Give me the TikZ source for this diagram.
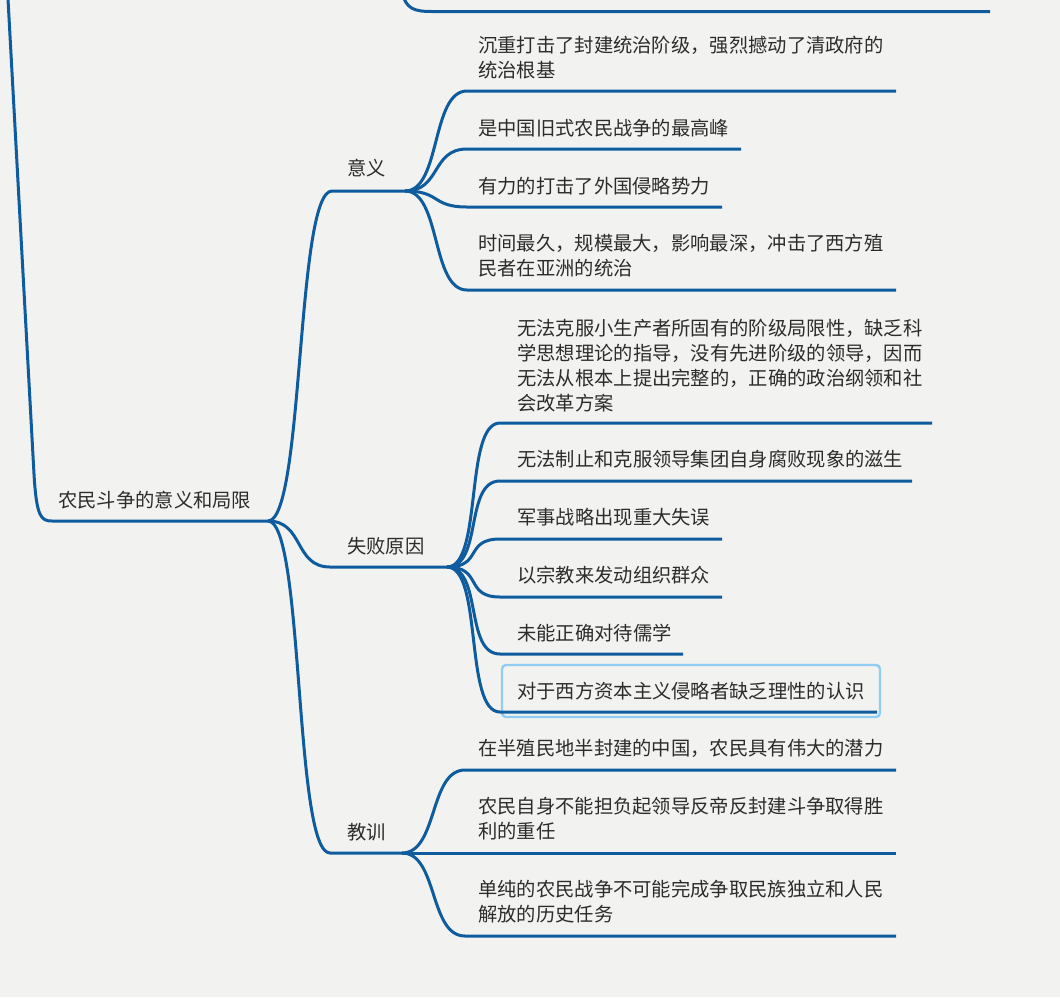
\documentclass[tikz,border=0pt]{standalone}
\usepackage{fontspec}
\setmainfont{Noto Sans CJK SC}
\usepackage{xcolor}
\usepackage{tikz}

\definecolor{paper}{HTML}{F2F2F0}
\definecolor{branchblue}{HTML}{0E5C9E}
\definecolor{inkgray}{HTML}{2C2C2C}
\definecolor{pickblue}{HTML}{8FCDF2}

\newcommand{\rows}[1]{\begin{tabular}[t]{@{}l@{}}#1\end{tabular}}

\begin{document}
\begin{tikzpicture}[x=1pt,y=-1pt,
  branch/.style={draw=branchblue,line width=3pt},
  curvy/.style={out=0,in=180,out distance=36pt,in distance=36pt},
  topic/.style={anchor=base west,inner sep=0pt,text=inkgray,font=\fontsize{19.3}{25}\selectfont}]

\useasboundingbox (0,0) rectangle (1060,997);
\fill[paper] (0,0) rectangle (1060,997);
\clip (0,0) rectangle (1060,997);

\coordinate (upper) at (7.5,-10);
\coordinate (upperBend) at (34,474);
\coordinate (rootIn) at (52,521);
\coordinate (rootHub) at (268,521);
\coordinate (prevUp) at (402,-8);
\coordinate (prevIn) at (432,11.5);
\coordinate (prevEnd) at (990,11.5);

\coordinate (yiyiIn) at (332,191);
\coordinate (yiyiHub) at (405,191);
\coordinate (shibaiIn) at (330,567);
\coordinate (shibaiHub) at (447,567);
\coordinate (jiaoxunIn) at (330,853);
\coordinate (jiaoxunHub) at (402,853);

\coordinate (y1) at (467,91);   \coordinate (y1e) at (896,91);
\coordinate (y2) at (467,149);  \coordinate (y2e) at (741,149);
\coordinate (y3) at (467,207);  \coordinate (y3e) at (722,207);
\coordinate (y4) at (467,290);  \coordinate (y4e) at (896,290);

\coordinate (s1) at (500,423);  \coordinate (s1e) at (932,423);
\coordinate (s2) at (500,481);  \coordinate (s2e) at (912,481);
\coordinate (s3) at (500,539);  \coordinate (s3e) at (722,539);
\coordinate (s4) at (500,597);  \coordinate (s4e) at (722,597);
\coordinate (s5) at (500,654);  \coordinate (s5e) at (683,654);
\coordinate (s6) at (500,712);  \coordinate (s6e) at (877,712);

\coordinate (j1) at (465,770);  \coordinate (j1e) at (896,770);
\coordinate (j2e) at (896,853);
\coordinate (j3) at (465,936);  \coordinate (j3e) at (896,936);

\draw[pickblue, line width=2.4pt, rounded corners=4pt] (502,665) rectangle (880,717);

\draw[branch] (upper) -- (upperBend) .. controls (36.5,517) and (41,521) .. (rootIn) -- (rootHub);
\draw[branch] (prevUp) .. controls (406,9) and (414,11.5) .. (prevIn) -- (prevEnd);

\draw[branch] (rootHub) to[curvy] (yiyiIn) -- (yiyiHub);
\draw[branch] (rootHub) to[curvy] (shibaiIn) -- (shibaiHub);
\draw[branch] (rootHub) to[curvy] (jiaoxunIn) -- (jiaoxunHub);

\draw[branch] (yiyiHub) to[curvy] (y1) -- (y1e);
\draw[branch] (yiyiHub) to[curvy] (y2) -- (y2e);
\draw[branch] (yiyiHub) to[curvy] (y3) -- (y3e);
\draw[branch] (yiyiHub) to[curvy] (y4) -- (y4e);

\draw[branch] (shibaiHub) to[curvy] (s1) -- (s1e);
\draw[branch] (shibaiHub) to[curvy] (s2) -- (s2e);
\draw[branch] (shibaiHub) to[curvy] (s3) -- (s3e);
\draw[branch] (shibaiHub) to[curvy] (s4) -- (s4e);
\draw[branch] (shibaiHub) to[curvy] (s5) -- (s5e);
\draw[branch] (shibaiHub) to[curvy] (s6) -- (s6e);

\draw[branch] (jiaoxunHub) to[curvy] (j1) -- (j1e);
\draw[branch] (jiaoxunHub) -- (j2e);
\draw[branch] (jiaoxunHub) to[curvy] (j3) -- (j3e);

\node[topic] (root) at (58,507) {农民斗争的意义和局限};
\node[topic] (yiyi) at (347,175) {意义};
\node[topic] (shibai) at (347,553) {失败原因};
\node[topic] (jiaoxun) at (347,839) {教训};

\node[topic] (y1t) at (478,52) {\rows{沉重打击了封建统治阶级，强烈撼动了清政府的\\统治根基}};
\node[topic] (y2t) at (478,135) {是中国旧式农民战争的最高峰};
\node[topic] (y3t) at (478,193) {有力的打击了外国侵略势力};
\node[topic] (y4t) at (478,250) {\rows{时间最久，规模最大，影响最深，冲击了西方殖\\民者在亚洲的统治}};

\node[topic] (s1t) at (517,335) {\rows{无法克服小生产者所固有的阶级局限性，缺乏科\\学思想理论的指导，没有先进阶级的领导，因而\\无法从根本上提出完整的，正确的政治纲领和社\\会改革方案}};
\node[topic] (s2t) at (517,466) {无法制止和克服领导集团自身腐败现象的滋生};
\node[topic] (s3t) at (517,524) {军事战略出现重大失误};
\node[topic] (s4t) at (517,582) {以宗教来发动组织群众};
\node[topic] (s5t) at (517,640) {未能正确对待儒学};
\node[topic] (s6t) at (517,698) {对于西方资本主义侵略者缺乏理性的认识};

\node[topic] (j1t) at (478,755) {在半殖民地半封建的中国，农民具有伟大的潜力};
\node[topic] (j2t) at (478,813) {\rows{农民自身不能担负起领导反帝反封建斗争取得胜\\利的重任}};
\node[topic] (j3t) at (478,896) {\rows{单纯的农民战争不可能完成争取民族独立和人民\\解放的历史任务}};

\end{tikzpicture}
\end{document}
